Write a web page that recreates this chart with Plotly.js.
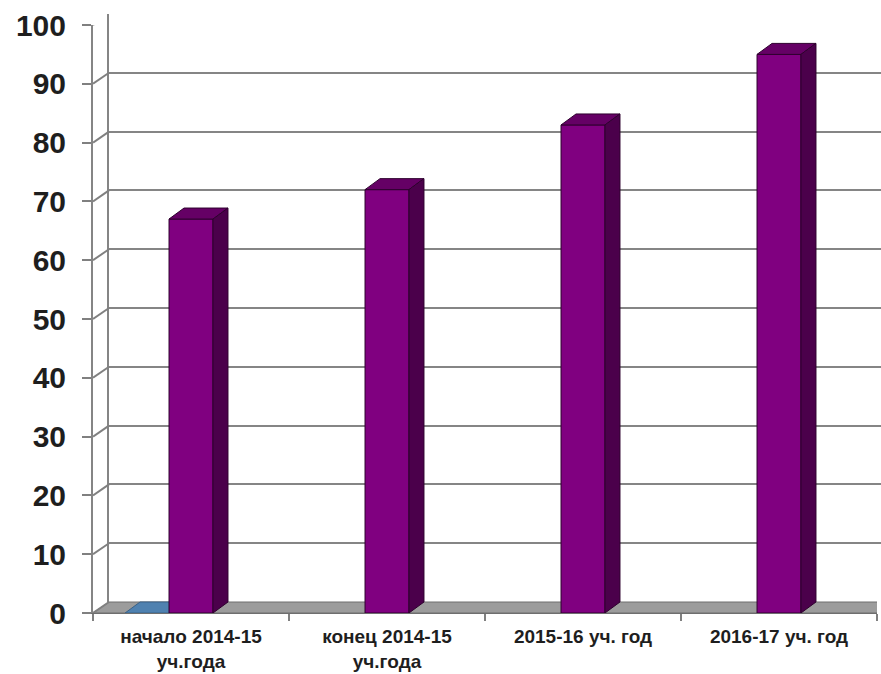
<!DOCTYPE html>
<html>
<head>
<meta charset="utf-8">
<script src="https://cdn.plot.ly/plotly-3.0.1.min.js"></script>
<style>html,body{margin:0;padding:0;background:#fff;}#chart{width:881px;height:674px;}</style>
</head>
<body>
<div id="chart"></div>
<script>
// ---- data ----
const categories = ["начало 2014-15<br>уч.года", "конец 2014-15<br>уч.года", "2015-16 уч. год", "2016-17 уч. год"];
const seriesBlue = [0, null, null, null];
const seriesPurple = [67, 72, 83, 95];
const yTickVals = [0, 10, 20, 30, 40, 50, 60, 70, 80, 90, 100];

// ---- geometry ----
const W = 881, H = 674;
const M = {l: 93, r: 0, t: 13, b: 61};
const PW = W - M.l - M.r, PH = H - M.t - M.b;
const FRONT_W = 784, FRONT_H = 588;
const WALL_DX = 16, WALL_DY = 11;   // depth of the 3D box (px)
const BAR_DX = 15, BAR_DY = 11;     // depth of each bar (px)
const NCAT = categories.length;
const pxPerCat = FRONT_W / NCAT;
const pxPerUnit = FRONT_H / 100;
const BW = (1 - 0.327) / 3;          // bar width in category units
const xs = categories.map((_, i) => i);

const wdx = WALL_DX / pxPerCat, wdy = WALL_DY / pxPerUnit;
const bdx = BAR_DX / pxPerCat, bdy = BAR_DY / pxPerUnit;

const FONT = 'Liberation Sans, Arial, sans-serif';

const traces = [
  // dummy trace so the back-wall subplot exists
  {x: [0], y: [null], xaxis: 'x', yaxis: 'y', type: 'scatter', mode: 'markers', showlegend: false, hoverinfo: 'skip'},
  {x: xs, y: seriesBlue, xaxis: 'x2', yaxis: 'y2', type: 'bar', width: BW, offset: -1.5 * BW,
   marker: {color: '#4f81b0', line: {width: 0}}, showlegend: false},
  {x: xs, y: seriesPurple, xaxis: 'x2', yaxis: 'y2', type: 'bar', width: BW, offset: -0.5 * BW,
   marker: {color: '#800080', line: {color: '#2e002e', width: 1}}, showlegend: false}
];

const shapes = [];
// floor
shapes.push({type: 'path', xref: 'x2', yref: 'y2', layer: 'below',
  path: `M -0.5 0 L ${NCAT - 0.5} 0 L ${NCAT - 0.5 + wdx} ${wdy} L ${-0.5 + wdx} ${wdy} Z`,
  fillcolor: '#9c9c9c', line: {color: '#6e6e6e', width: 1}});
// left wall diagonals
yTickVals.forEach(t => {
  shapes.push({type: 'line', xref: 'x2', yref: 'y2', layer: 'below',
    x0: -0.5, y0: t, x1: -0.5 + wdx, y1: t + wdy, line: {color: '#808080', width: 2}});
});
// 3D faces for bars
function addFaces(vals, off, topColor, sideColor, lineColor) {
  vals.forEach((v, i) => {
    if (v === null || v === undefined) return;
    const L = xs[i] + off, R = L + BW;
    const layer = v > 0 ? 'above' : 'below';
    shapes.push({type: 'path', xref: 'x2', yref: 'y2', layer: layer,
      path: `M ${L} ${v} L ${R} ${v} L ${R + bdx} ${v + bdy} L ${L + bdx} ${v + bdy} Z`,
      fillcolor: topColor, line: {color: lineColor, width: 1}});
    if (v > 0) {
      shapes.push({type: 'path', xref: 'x2', yref: 'y2', layer: layer,
        path: `M ${R} 0 L ${R} ${v} L ${R + bdx} ${v + bdy} L ${R + bdx} ${bdy} Z`,
        fillcolor: sideColor, line: {color: lineColor, width: 1}});
    }
  });
}
addFaces(seriesBlue, -1.5 * BW, '#4f81b0', '#3a6186', '#3a6186');
addFaces(seriesPurple, -0.5 * BW, '#650065', '#4b004b', '#2e002e');

const layout = {
  width: W, height: H,
  margin: M,
  paper_bgcolor: '#ffffff', plot_bgcolor: 'rgba(0,0,0,0)',
  showlegend: false,
  // back wall
  xaxis: {domain: [WALL_DX / PW, 1], range: [-0.5, -0.5 + (PW - WALL_DX) / pxPerCat],
          anchor: 'y', visible: false, fixedrange: true},
  yaxis: {domain: [WALL_DY / PH, (WALL_DY + FRONT_H) / PH], range: [0, 100], anchor: 'x',
          tickvals: yTickVals, showticklabels: false, ticks: '',
          showgrid: true, gridcolor: '#858585', gridwidth: 2,
          showline: true, linecolor: '#858585', linewidth: 2, zeroline: false, fixedrange: true},
  // front plane
  xaxis2: {domain: [0, FRONT_W / PW], range: [-0.5, NCAT - 0.5], anchor: 'y2',
           tickvals: xs, ticktext: categories, ticks: '',
           tickfont: {family: FONT, size: 19, color: '#1e1e1e', weight: 700},
           minor: {tick0: -0.5, dtick: 1, ticks: 'outside', ticklen: 7, tickcolor: '#808080', tickwidth: 2, showgrid: false},
           showgrid: false, zeroline: false, showline: true, linecolor: '#6e6e6e', linewidth: 1,
           ticklabelstandoff: 6, fixedrange: true},
  yaxis2: {domain: [0, FRONT_H / PH], range: [0, 100], anchor: 'x2',
           tickvals: yTickVals, ticks: 'outside', ticklen: 9, tickcolor: '#808080', tickwidth: 2,
           tickfont: {family: FONT, size: 30, color: '#1e1e1e', weight: 700},
           showgrid: false, zeroline: false, showline: true, linecolor: '#858585', linewidth: 2,
           ticklabelstandoff: 10, fixedrange: true},
  shapes: shapes
};

Plotly.newPlot('chart', traces, layout, {staticPlot: true, displayModeBar: false});
</script>
</body>
</html>
